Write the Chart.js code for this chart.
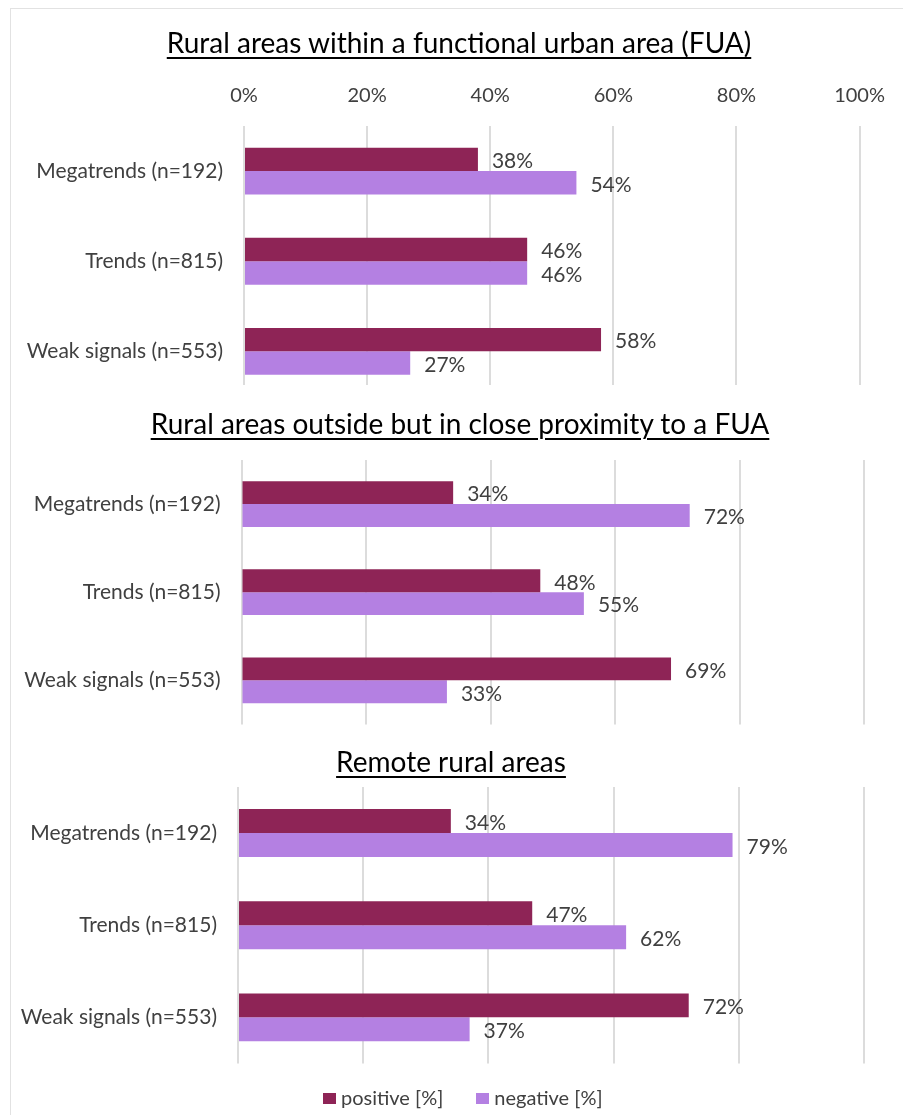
<!DOCTYPE html>
<html>
<head>
<meta charset="utf-8">
<script src="https://cdn.jsdelivr.net/npm/chart.js@4.4.0/dist/chart.umd.min.js"></script>
<style>
  body { margin: 0; background: #fff; }
  #page { position: relative; width: 903px; height: 1115px; overflow: hidden; font-family: Lato, sans-serif; }
  .frame-left { position: absolute; left: 10px; top: 8px; bottom: 0; width: 1px; background: #e2e2e2; }
  .frame-top { position: absolute; left: 10px; top: 8px; right: 0; height: 1px; background: #e2e2e2; }
  canvas { position: absolute; left: 12px; background: #fff; }
  .title {
    position: absolute; transform: translateX(-50%); white-space: nowrap;
    font-size: 28px; line-height: 30px; color: #000; z-index: 2;
    text-decoration: underline; text-decoration-thickness: 2px; text-underline-offset: 4px;
  }
  #legend { position: absolute; left: 323px; top: 1084px; display: flex; align-items: center; z-index: 2;
            font-size: 20px; line-height: 26px; color: #404040; white-space: nowrap; }
  #legend .item { display: flex; align-items: center; margin-right: 33px; }
  #legend .swatch { width: 13px; height: 11px; margin-right: 5px; margin-top: 2px; }
</style>
</head>
<body>
<div id="page">
  <div class="frame-left"></div>
  <div class="frame-top"></div>
  <canvas id="fua" width="891" height="420" style="top:10px"></canvas>
  <canvas id="close" width="891" height="373" style="top:385px"></canvas>
  <canvas id="remote" width="891" height="367" style="top:730px"></canvas>
  <div class="title" style="left:459px; top:27px">Rural areas within a functional urban area (FUA)</div>
  <div class="title" style="left:460px; top:408px">Rural areas outside but in close proximity to a FUA</div>
  <div class="title" style="left:451px; top:746px">Remote rural areas</div>
  <div id="legend"></div>
</div>
<script>
const categories = ['Megatrends (n=192)', 'Trends (n=815)', 'Weak signals (n=553)'];
const tickLabels = ['0%', '20%', '40%', '60%', '80%', '100%'];

const fuaPositive = [38, 46, 58];
const fuaNegative = [54, 46, 27];
const closePositive = [34, 48, 69];
const closeNegative = [72, 55, 33];
const remotePositive = [34, 47, 72];
const remoteNegative = [79, 62, 37];

const posColor = '#8e2456';
const negColor = '#b480e2';
const textColor = '#404040';

Chart.defaults.font.family = 'Lato, sans-serif';
Chart.defaults.font.size = 21;
Chart.defaults.color = textColor;

// percent labels just past the end of each bar
const valueLabels = {
  id: 'valueLabels',
  afterDatasetsDraw(chart) {
    const ctx = chart.ctx;
    ctx.save();
    ctx.font = '21px Lato, sans-serif';
    ctx.fillStyle = textColor;
    ctx.textBaseline = 'middle';
    ctx.textAlign = 'left';
    chart.data.datasets.forEach((ds, i) => {
      chart.getDatasetMeta(i).data.forEach((bar, j) => {
        ctx.fillText(ds.data[j] + '%', bar.x + 14, bar.y + 2);
      });
    });
    ctx.restore();
  }
};

function panelChart(id, positive, negative, o) {
  return new Chart(document.getElementById(id), {
    type: 'bar',
    data: {
      labels: categories,
      datasets: [
        { label: 'positive [%]', data: positive, backgroundColor: posColor },
        { label: 'negative [%]', data: negative, backgroundColor: negColor }
      ]
    },
    options: {
      indexAxis: 'y',
      responsive: false,
      animation: false,
      categoryPercentage: 0.52,
      barPercentage: 1,
      layout: { padding: { top: o.padTop, bottom: 0, left: 0, right: o.padRight } },
      scales: {
        x: {
          position: 'top',
          min: 0,
          max: 100,
          ticks: {
            display: o.showTicks,
            stepSize: 20,
            padding: 18,
            font: { size: 20 },
            callback: (v, i) => tickLabels[i]
          },
          grid: { color: '#dcdcdc', lineWidth: 2, drawTicks: false },
          border: { display: false },
          afterFit: s => { s.height = o.axisHeight; }
        },
        y: {
          grid: { display: false, drawTicks: false },
          border: { display: false },
          ticks: { padding: 21 },
          afterFit: s => { s.width = o.yWidth; }
        }
      },
      plugins: {
        tooltip: { enabled: false },
        legend: { display: false }
      }
    },
    plugins: [valueLabels]
  });
}

panelChart('fua', fuaPositive, fuaNegative, {
  showTicks: true, axisHeight: 40, padTop: 76, padRight: 41, yWidth: 232
});
panelChart('close', closePositive, closeNegative, {
  showTicks: false, axisHeight: 0, padTop: 75, padRight: 39, yWidth: 229.5
});
const remote = panelChart('remote', remotePositive, remoteNegative, {
  showTicks: false, axisHeight: 0, padTop: 57, padRight: 39, yWidth: 226
});

// shared legend under the last panel, built from its datasets
const legendEl = document.getElementById('legend');
remote.data.datasets.forEach(ds => {
  const item = document.createElement('span');
  item.className = 'item';
  const swatch = document.createElement('span');
  swatch.className = 'swatch';
  swatch.style.background = ds.backgroundColor;
  item.appendChild(swatch);
  item.appendChild(document.createTextNode(ds.label));
  legendEl.appendChild(item);
});
</script>
</body>
</html>
